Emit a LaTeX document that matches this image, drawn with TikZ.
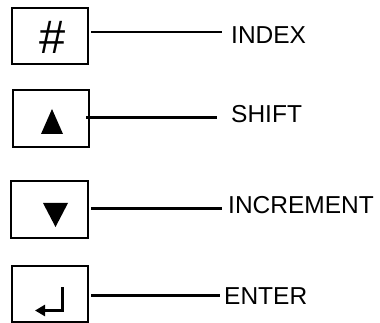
\documentclass[tikz,border=0pt]{standalone}
\usepackage{fontspec}
\setmainfont{Liberation Sans}
\usetikzlibrary{arrows.meta}
\begin{document}
\begin{tikzpicture}[x=1pt,y=-1pt,
  keybox/.style={draw,line width=2.2pt,minimum width=76pt,minimum height=56pt,inner sep=0pt},
  keylabel/.style={anchor=base west,inner sep=0pt,font=\fontsize{24.5pt}{27pt}\selectfont},
  wire/.style={line width=2.1pt}]
\useasboundingbox (0,0) rectangle (380,323);
% boxes
\node[keybox] (b1) at (50,36) {};
\node[keybox,minimum height=57pt] (b2) at (51,118.5) {};
\node[keybox,minimum width=77pt,minimum height=57pt] (b3) at (49.5,209.5) {};
\node[keybox] (b4) at (50,294) {};
% symbols
\node[inner sep=0pt,font=\fontsize{47pt}{49pt}\selectfont] (s1) at (52.5,37) {\#};
\fill (52,109) -- (63,134) -- (41,134) -- cycle;
\fill (43,203) -- (68,203) -- (55.5,227) -- cycle;
\draw[line width=2.6pt,-{Triangle[length=10pt,width=11pt]}] (62.5,287) -- (62.5,310.5) -- (35,310.5);
% labels
\node[keylabel] (l1) at (231,43.5) {INDEX};
\node[keylabel] (l2) at (231,122.5) {SHIFT};
\node[keylabel] (l3) at (228,213.5) {INCREMENT};
\node[keylabel] (l4) at (224,304.5) {ENTER};
% wires
\coordinate (w1a) at (b1.east |- 0,32.3);
\coordinate (w1b) at (222,32.3);
\coordinate (w2a) at (86,117.5);
\coordinate (w2b) at (217,117.5);
\coordinate (w3a) at (b3.east |- 0,208.5);
\coordinate (w3b) at (222,208.5);
\coordinate (w4a) at (b4.east |- 0,295.5);
\coordinate (w4b) at (220,295.5);
\draw[wire] ([xshift=2pt]w1a) -- (w1b);
\draw[wire,line width=2.7pt] (w2a) -- (w2b);
\draw[wire] ([xshift=2pt]w3a) -- (w3b);
\draw[wire] ([xshift=2pt]w4a) -- (w4b);
\end{tikzpicture}
\end{document}
